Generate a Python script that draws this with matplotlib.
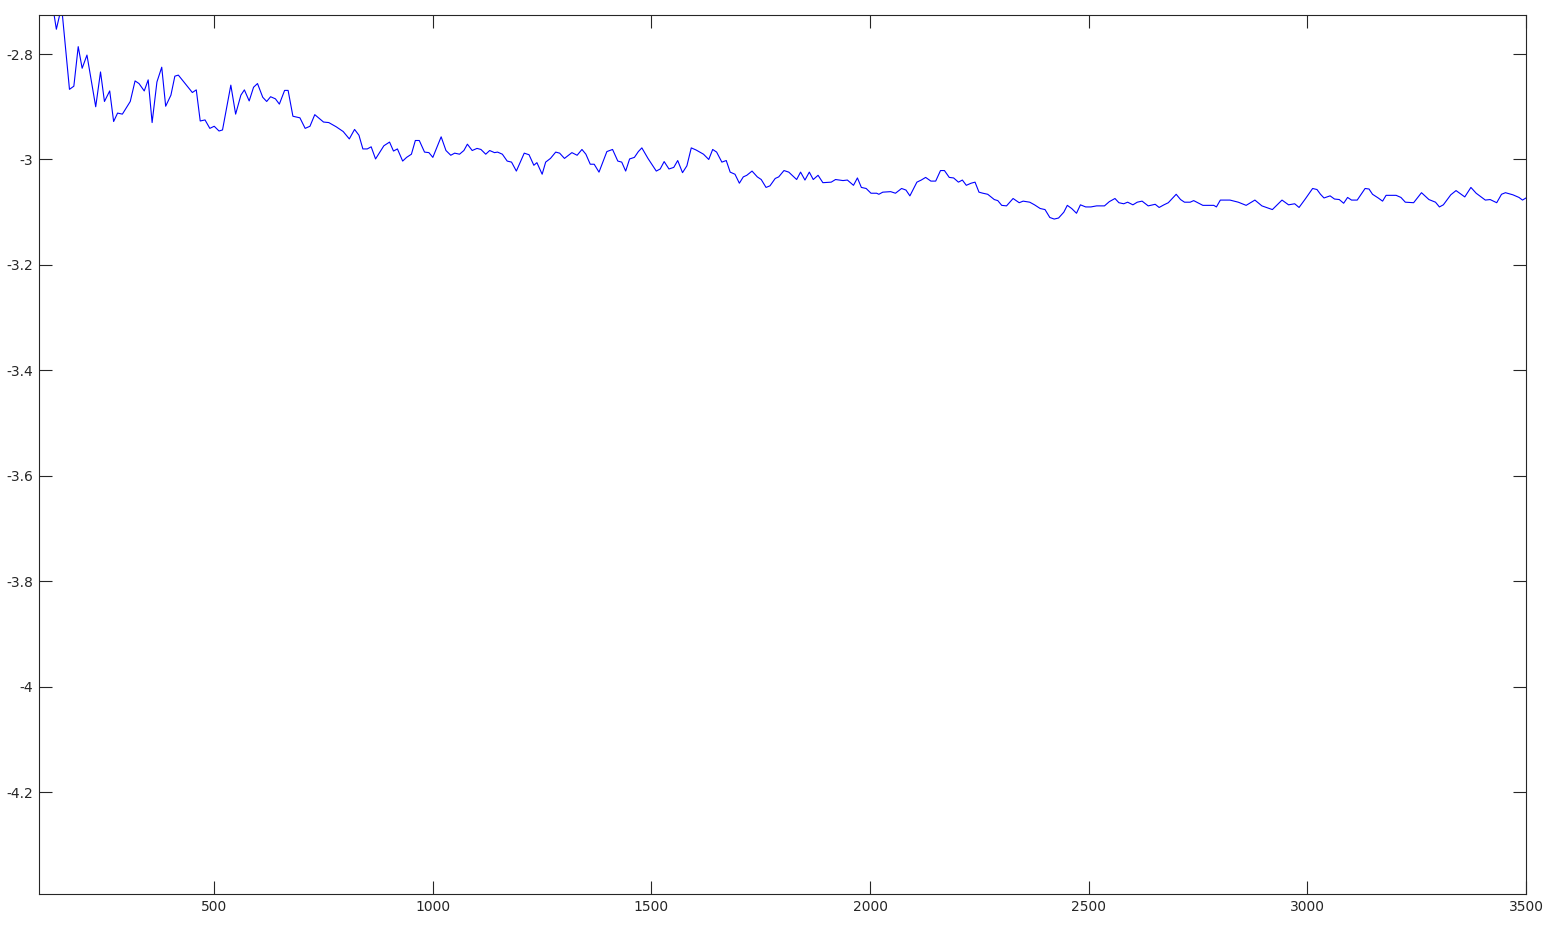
import matplotlib
matplotlib.use("Agg")
import matplotlib.pyplot as plt

# values
x_vals = [100, 129, 139, 151, 169, 179, 189, 198, 209, 229, 240, 249, 261, 270, 279, 290, 308, 319, 328, 340,
          349, 358, 369, 380, 389, 401, 410, 418, 450, 459, 468, 479, 490, 500, 511, 519, 538, 549, 561, 569,
          580, 590, 599, 611, 620, 629, 640, 649, 661, 669, 680, 696, 708, 719, 730, 750, 762, 779, 795, 809,
          821, 831, 840, 850, 859, 869, 888, 901, 910, 919, 931, 940, 951, 960, 969, 981, 991, 1000, 1019, 1030,
          1041, 1050, 1061, 1071, 1079, 1090, 1101, 1110, 1121, 1130, 1141, 1148, 1159, 1170, 1180, 1191, 1209, 1220, 1231, 1238,
          1250, 1258, 1269, 1281, 1290, 1301, 1318, 1330, 1341, 1350, 1360, 1369, 1380, 1398, 1411, 1423, 1432, 1441, 1450, 1461,
          1470, 1478, 1492, 1511, 1520, 1529, 1540, 1551, 1560, 1571, 1581, 1591, 1602, 1619, 1631, 1640, 1649, 1661, 1671, 1680,
          1691, 1701, 1710, 1718, 1730, 1742, 1751, 1762, 1771, 1783, 1791, 1803, 1814, 1832, 1841, 1851, 1861, 1870, 1881, 1892,
          1911, 1921, 1938, 1948, 1962, 1971, 1980, 1991, 2002, 2015, 2020, 2029, 2047, 2058, 2072, 2082, 2091, 2107, 2117, 2127,
          2139, 2150, 2161, 2170, 2181, 2191, 2202, 2211, 2220, 2231, 2240, 2249, 2258, 2269, 2284, 2292, 2301, 2312, 2327, 2341,
          2350, 2365, 2376, 2389, 2400, 2411, 2421, 2431, 2443, 2451, 2461, 2472, 2481, 2493, 2505, 2518, 2536, 2547, 2560, 2569,
          2580, 2589, 2601, 2611, 2622, 2636, 2652, 2661, 2672, 2682, 2700, 2710, 2719, 2732, 2740, 2761, 2786, 2792, 2801, 2823,
          2842, 2860, 2880, 2896, 2920, 2942, 2957, 2971, 2981, 2996, 3012, 3022, 3030, 3038, 3052, 3062, 3073, 3083, 3092, 3101,
          3114, 3132, 3141, 3149, 3162, 3172, 3180, 3203, 3214, 3224, 3243, 3261, 3278, 3293, 3302, 3311, 3328, 3340, 3360, 3374,
          3386, 3407, 3418, 3433, 3444, 3453, 3470, 3484, 3492, 3500]
y_vals = [-2.660, -2.700, -2.753, -2.710, -2.867, -2.861, -2.786, -2.827, -2.802, -2.900, -2.834, -2.890, -2.870, -2.928, -2.912, -2.914, -2.890, -2.851, -2.856, -2.870,
          -2.849, -2.930, -2.853, -2.825, -2.899, -2.878, -2.842, -2.840, -2.873, -2.868, -2.927, -2.925, -2.941, -2.937, -2.946, -2.944, -2.859, -2.914, -2.878, -2.868,
          -2.889, -2.863, -2.856, -2.882, -2.890, -2.881, -2.885, -2.895, -2.869, -2.869, -2.918, -2.921, -2.941, -2.937, -2.915, -2.929, -2.930, -2.938, -2.947, -2.961,
          -2.943, -2.954, -2.980, -2.980, -2.976, -2.999, -2.974, -2.967, -2.984, -2.980, -3.003, -2.996, -2.990, -2.964, -2.964, -2.986, -2.987, -2.996, -2.957, -2.983,
          -2.992, -2.988, -2.990, -2.983, -2.971, -2.983, -2.979, -2.981, -2.990, -2.983, -2.987, -2.986, -2.990, -3.003, -3.005, -3.022, -2.988, -2.991, -3.011, -3.006,
          -3.028, -3.005, -2.998, -2.986, -2.988, -2.998, -2.987, -2.992, -2.981, -2.990, -3.009, -3.009, -3.024, -2.985, -2.981, -3.003, -3.005, -3.022, -2.999, -2.996,
          -2.985, -2.978, -2.998, -3.022, -3.018, -3.004, -3.018, -3.015, -3.002, -3.025, -3.012, -2.978, -2.982, -2.990, -3.000, -2.981, -2.986, -3.005, -3.002, -3.024,
          -3.028, -3.045, -3.033, -3.030, -3.022, -3.033, -3.038, -3.053, -3.050, -3.036, -3.033, -3.021, -3.024, -3.038, -3.024, -3.039, -3.024, -3.038, -3.030, -3.044,
          -3.043, -3.038, -3.040, -3.039, -3.049, -3.035, -3.053, -3.055, -3.064, -3.064, -3.066, -3.062, -3.061, -3.064, -3.055, -3.058, -3.069, -3.043, -3.039, -3.034,
          -3.041, -3.041, -3.021, -3.021, -3.034, -3.035, -3.043, -3.039, -3.049, -3.045, -3.043, -3.062, -3.064, -3.066, -3.076, -3.078, -3.087, -3.088, -3.074, -3.082,
          -3.079, -3.081, -3.086, -3.093, -3.095, -3.110, -3.113, -3.111, -3.100, -3.087, -3.093, -3.102, -3.086, -3.090, -3.090, -3.088, -3.088, -3.080, -3.074, -3.082,
          -3.084, -3.081, -3.086, -3.081, -3.079, -3.088, -3.085, -3.091, -3.086, -3.082, -3.066, -3.076, -3.081, -3.081, -3.078, -3.087, -3.087, -3.090, -3.077, -3.077,
          -3.081, -3.087, -3.077, -3.088, -3.095, -3.077, -3.086, -3.084, -3.091, -3.074, -3.055, -3.057, -3.066, -3.073, -3.069, -3.075, -3.076, -3.083, -3.072, -3.077,
          -3.077, -3.055, -3.056, -3.066, -3.073, -3.079, -3.068, -3.068, -3.072, -3.081, -3.082, -3.063, -3.076, -3.081, -3.090, -3.086, -3.067, -3.059, -3.071, -3.053,
          -3.064, -3.077, -3.076, -3.082, -3.066, -3.063, -3.067, -3.072, -3.077, -3.073]

x_ticks = [500, 1000, 1500, 2000, 2500, 3000, 3500]
y_ticks = [-4.2, -4.0, -3.8, -3.6, -3.4, -3.2, -3.0, -2.8]
y_tick_labels = ["-4.2", "-4", "-3.8", "-3.6", "-3.4", "-3.2", "-3", "-2.8"]

plt.rcParams['font.family'] = ['DejaVu Sans']

fig = plt.figure(figsize=(15.53, 9.26), dpi=100)
ax = fig.add_axes([39.3 / 1553, 32 / 926, (1526 - 39.3) / 1553, (894 - 15) / 926])

ax.plot(x_vals, y_vals, color=(0, 0, 1), linewidth=0.8)

ax.set_xlim(100, 3500)
ax.set_ylim(-4.393, -2.726)
ax.set_xticks(x_ticks)
ax.set_yticks(y_ticks)
ax.set_yticklabels(y_tick_labels)

edge = '#262626'
for s in ax.spines.values():
    s.set_color(edge)
    s.set_linewidth(0.8)
ax.tick_params(direction='in', length=9.5, width=0.8, color=edge, labelcolor=edge,
               labelsize=10, pad=4.5, top=True, right=True)

fig.savefig("out.png", dpi=100)
